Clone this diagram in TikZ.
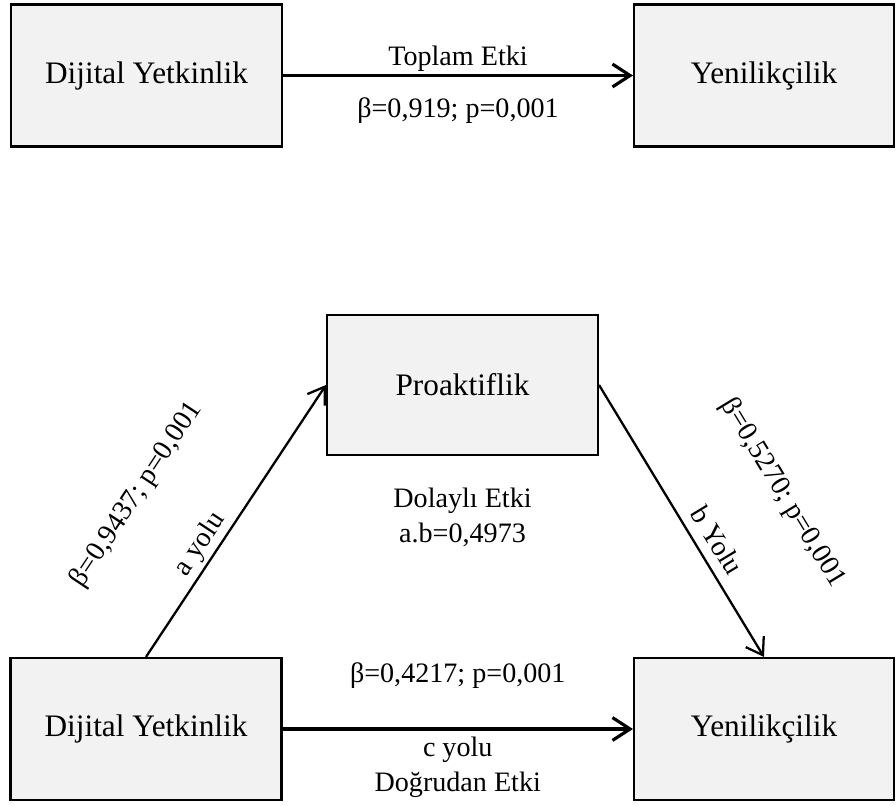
\documentclass[tikz,border=0pt]{standalone}
\usepackage{fontspec}
\setmainfont{Liberation Serif}
\usepackage{tikz}
\usetikzlibrary{arrows.meta,positioning}
\definecolor{boxgray}{HTML}{F2F2F2}

\begin{document}
\begin{tikzpicture}[
  varbox/.style={draw=black, line width=1.2pt, fill=boxgray, inner sep=0pt,
    minimum width=5.42cm, minimum height=2.84cm,
    font=\fontsize{17.8pt}{21pt}\selectfont},
  effarrow/.style={line width=1.8pt, -{Straight Barb[length=10pt,width=13pt]}},
  patharrow/.style={line width=1.3pt, -{Straight Barb[length=9pt,width=12pt]}},
  lbl/.style={font=\fontsize{16pt}{19.8pt}\selectfont, inner sep=1.5pt, align=center}
]
\useasboundingbox (0,0) rectangle (17.92,-16.1);

% total effect model
\node[varbox] (dy1) at (2.93,-1.51) {Dijital Yetkinlik};
\node[varbox, minimum width=5.2cm] (yen1) at (15.28,-1.51) {Yenilikçilik};
\draw[effarrow] (dy1) -- (yen1)
  node[lbl, midway, above=0pt] {Toplam Etki}
  node[lbl, midway, below=10.5pt] {β=0,919; p=0,001};

% mediation model
\node[varbox, minimum height=2.8cm] (pro) at (9.25,-7.70) {Proaktiflik};
\node[varbox] (dy2) at (2.92,-14.58) {Dijital Yetkinlik};
\node[varbox, minimum width=5.2cm] (yen2) at (15.28,-14.58) {Yenilikçilik};

% a and b paths
\draw[patharrow] (dy2.north) -- (pro.west)
  node[lbl, pos=0.38, sloped, above=0pt] {a yolu}
  node[lbl, pos=0.40, sloped, above=46pt] {β=0,9437; p=0,001};
\draw[patharrow] (pro.east) -- (yen2.north)
  node[lbl, pos=0.61, sloped, above=4pt] {b Yolu}
  node[lbl, pos=0.59, sloped, above=48pt] {β=0,5270; p=0,001};

% c path
\draw[effarrow] (dy2) -- (yen2)
  node[lbl, midway, above=20.5pt] {β=0,4217; p=0,001}
  node[lbl, midway, below=2.2pt] {c yolu\\Doğrudan Etki};

% indirect effect
\node[lbl, below=16.4pt of pro] (ind) {Dolaylı Etki\\a.b=0,4973};
\end{tikzpicture}
\end{document}
